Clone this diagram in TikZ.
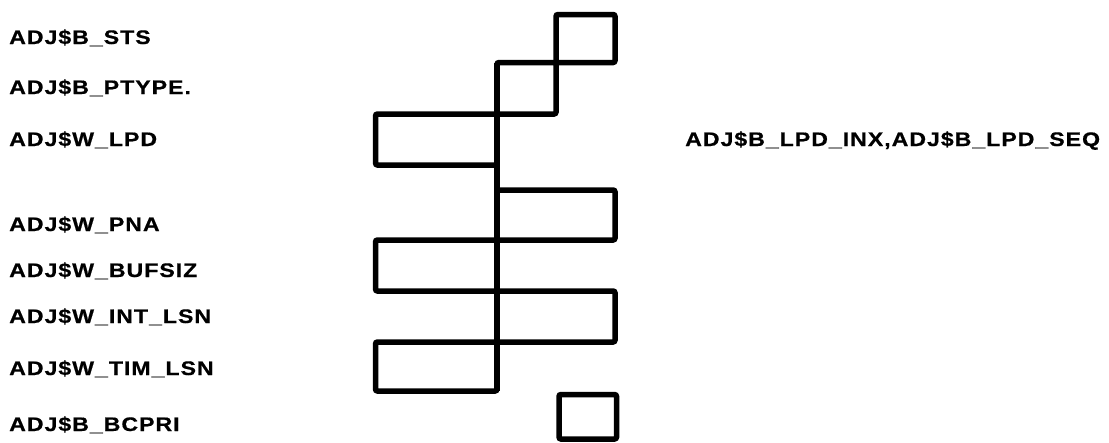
\documentclass[tikz,border=0pt]{standalone}
\usepackage{fontspec}
\newfontfamily\fieldfont{Liberation Sans}[FakeStretch=1.18,LetterSpace=5,FakeBold=0.6]
\begin{document}
\begin{tikzpicture}[x=1pt,y=-1pt,
    box/.style={line width=5.5pt,rounded corners=2pt},
    fld/.style={anchor=base west,inner sep=0pt,
      font=\fieldfont\bfseries\fontsize{19.6}{22}\selectfont}]
	  \useasboundingbox (0,0) rectangle (1109,442);
	  % field boxes
	  \draw[box] (556,14.5) rectangle (615,62.5);
	  \draw[box] (497,62.5) rectangle (556,114);
	  \draw[box] (375.5,114) rectangle (497,165);
	  \draw[box] (497,190) rectangle (615,240);
	  \draw[box] (375.5,240) rectangle (497,291);
	  \draw[box] (497,291) rectangle (615,342);
	  \draw[box] (375.5,342) rectangle (497,391);
	  \draw[box] (559,394.5) rectangle (616.5,439);
	  \draw[box] (497,62.5) -- (497,391);
	  % field names
	  \node[fld] (sts) at (9,44) {ADJ\$B\_STS};
	  \node[fld] (ptype) at (9,94) {ADJ\$B\_PTYPE.};
	  \node[fld] (lpd) at (9,146) {ADJ\$W\_LPD};
	  \node[fld] (pna) at (9,231) {ADJ\$W\_PNA};
	  \node[fld] (bufsiz) at (9,277) {ADJ\$W\_BUFSIZ};
	  \node[fld] (intlsn) at (9,323) {ADJ\$W\_INT\_LSN};
	  \node[fld] (timlsn) at (9,375) {ADJ\$W\_TIM\_LSN};
	  \node[fld] (bcpri) at (9,431) {ADJ\$B\_BCPRI};
	  \node[fld] (lpdsub) at (685,146) {ADJ\$B\_LPD\_INX,ADJ\$B\_LPD\_SEQ};
	\end{tikzpicture}
\end{document}
